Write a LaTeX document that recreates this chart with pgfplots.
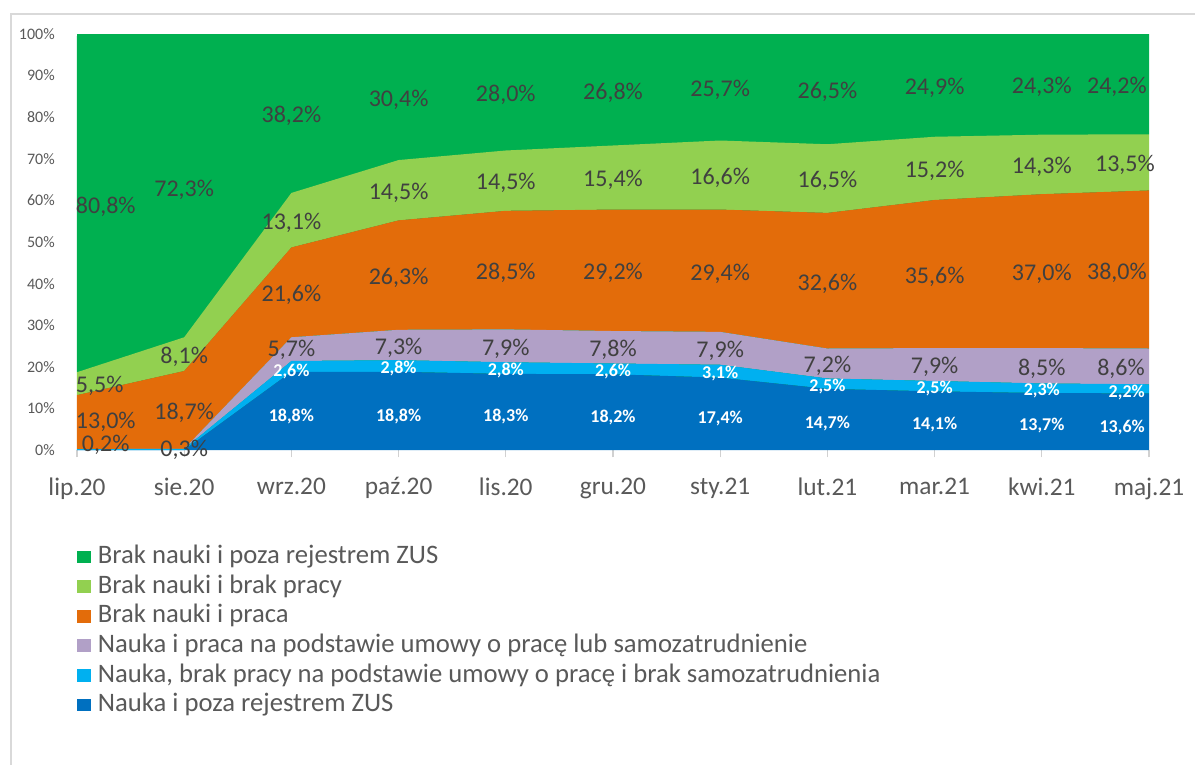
\documentclass[border=0pt]{standalone}
\usepackage{fontspec}
\setmainfont{Carlito}
\usepackage{pgfplots}
\pgfplotsset{compat=1.18}
\definecolor{cDG}{HTML}{00B050}
\definecolor{cLG}{HTML}{92D050}
\definecolor{cOR}{HTML}{E36C0A}
\definecolor{cPU}{HTML}{B1A0C7}
\definecolor{cLB}{HTML}{00B0F0}
\definecolor{cDB}{HTML}{0070C0}
\definecolor{cText}{HTML}{404040}
\definecolor{cTick}{HTML}{595959}
\tikzset{
 lab/.style={font=\fontsize{18}{18}\selectfont, text=cText, inner sep=0pt, yshift=-2pt},
 wlab/.style={font=\fontsize{13.5}{13.5}\selectfont\bfseries, text=white, inner sep=0pt, yshift=-2pt},
}
\pgfplotsset{frame/.style={at={(57.75pt,-337.5pt)}, anchor=south west,
 width=804pt, height=312pt, scale only axis,
 xmin=0, xmax=10, ymin=0, ymax=100}}
\newcommand{\lab}[3]{\node[lab] at (axis cs:#1,#2) {#3\%};}
\newcommand{\labW}[3]{\node[lab,anchor=west,xshift=-1pt] at (axis cs:#1,#2) {#3\%};}
\newcommand{\labE}[3]{\node[lab,anchor=east,xshift=-1.5pt] at (axis cs:#1,#2) {#3\%};}
\newcommand{\wl}[3]{\node[wlab] at (axis cs:#1,#2) {#3\%};}
\newcommand{\wlE}[3]{\node[wlab,anchor=east,xshift=-3pt] at (axis cs:#1,#2) {#3\%};}
\begin{document}
\begin{tikzpicture}
\path[use as bounding box] (0pt,0pt) rectangle (896.25pt,-573pt);
\begin{scope}
\clip (0pt,0pt) rectangle (896.25pt,-573pt);
\draw[draw=black!15, line width=0.8pt] (8.25pt,-10.5pt) rectangle (950pt,-620pt);
\end{scope}
\begin{axis}[
 frame,
 axis background/.style={fill=cDG},
 stack plots=y,
 axis x line*=bottom, axis y line*=left,
 axis line style={draw=none},
 xtick={0,...,10},
 xticklabels={lip.20,sie.20,wrz.20,paź.20,lis.20,gru.20,sty.21,lut.21,mar.21,kwi.21,maj.21},
 ytick={0,10,...,100},
 yticklabel={\pgfmathprintnumber{\tick}\%},
 /pgf/number format/assume math mode=true,
 tick align=outside,
 major tick length=5.5pt,
 xtick style={draw=black!18, line width=0.8pt},
 ytick style={draw=none},
 xticklabel style={font=\fontsize{19}{19}\selectfont, text=cTick, inner sep=0pt, yshift=-15pt},
 yticklabel style={font=\fontsize{12}{12}\selectfont, text=cTick, inner sep=0pt, xshift=-11pt},
 reverse legend,
 legend cell align=left,
 legend image code/.code={\fill[#1] (0pt,-4.8pt) rectangle (10.5pt,4.8pt);},
 legend style={at={(0,0)}, anchor=north west, yshift=-70.5pt, xshift=0pt,
   draw=none, fill=none, inner sep=0pt, row sep=3.1pt, column sep=5pt,
   font=\fontsize{20}{20}\selectfont, text=cTick,
   nodes={inner sep=0pt, text height=14.5pt, text depth=4.6pt}},
]
\addplot[fill=cDB, draw=none] coordinates {(0,0) (1,0) (2,18.8) (3,18.8) (4,18.3) (5,18.2) (6,17.4) (7,14.7) (8,14.1) (9,13.7) (10,13.6)} \closedcycle;
\addlegendentry{Nauka i poza rejestrem ZUS}
\addplot[fill=cLB, draw=none] coordinates {(0,0.2) (1,0.3) (2,2.6) (3,2.8) (4,2.8) (5,2.6) (6,3.1) (7,2.5) (8,2.5) (9,2.3) (10,2.2)} \closedcycle;
\addlegendentry{Nauka, brak pracy na podstawie umowy o pracę i brak samozatrudnienia}
\addplot[fill=cPU, draw=none] coordinates {(0,0) (1,0) (2,5.7) (3,7.3) (4,7.9) (5,7.8) (6,7.9) (7,7.2) (8,7.9) (9,8.5) (10,8.6)} \closedcycle;
\addlegendentry{Nauka i praca na podstawie umowy o pracę lub samozatrudnienie}
\addplot[fill=cOR, draw=none] coordinates {(0,13.0) (1,18.7) (2,21.6) (3,26.3) (4,28.5) (5,29.2) (6,29.4) (7,32.6) (8,35.6) (9,37.0) (10,38.0)} \closedcycle;
\addlegendentry{Brak nauki i praca}
\addplot[fill=cLG, draw=none] coordinates {(0,5.5) (1,8.1) (2,13.1) (3,14.5) (4,14.5) (5,15.4) (6,16.6) (7,16.5) (8,15.2) (9,14.3) (10,13.5)} \closedcycle;
\addlegendentry{Brak nauki i brak pracy}
\addplot[fill=cDG, draw=none] coordinates {(0,80.8) (1,72.3) (2,38.2) (3,30.4) (4,28.0) (5,26.8) (6,25.7) (7,26.5) (8,24.9) (9,24.3) (10,24.2)} \closedcycle;
\addlegendentry{Brak nauki i poza rejestrem ZUS}
\end{axis}
\begin{axis}[frame, hide axis, clip=false]
% dark green labels
\labW{0}{59.1}{80,8}
\lab{1}{63.25}{72,3}
\lab{2}{80.9}{38,2}
\lab{3}{84.9}{30,4}
\lab{4}{86.0}{28,0}
\lab{5}{86.6}{26,8}
\lab{6}{87.25}{25,7}
\lab{7}{86.75}{26,5}
\lab{8}{87.75}{24,9}
\lab{9}{87.95}{24,3}
\labE{10}{88.0}{24,2}
% light green labels
\labW{0}{15.95}{5,5}
\lab{1}{23.05}{8,1}
\lab{2}{55.25}{13,1}
\lab{3}{62.45}{14,5}
\lab{4}{64.75}{14,5}
\lab{5}{65.5}{15,4}
\lab{6}{66.1}{16,6}
\lab{7}{65.25}{16,5}
\lab{8}{67.7}{15,2}
\lab{9}{68.65}{14,3}
\node[lab,anchor=east,xshift=4.5pt] at (axis cs:10,69.15) {13,5\%};
% orange labels
\labW{0}{7.4}{13,0}
\lab{1}{9.65}{18,7}
\lab{2}{37.9}{21,6}
\lab{3}{42.05}{26,3}
\lab{4}{43.25}{28,5}
\lab{5}{43.2}{29,2}
\lab{6}{43.1}{29,4}
\lab{7}{40.7}{32,6}
\lab{8}{42.3}{35,6}
\lab{9}{43.0}{37,0}
\labE{10}{43.15}{38,0}
% purple labels
\lab{2}{24.6}{5,7}
\lab{3}{25.25}{7,3}
\lab{4}{25.05}{7,9}
\lab{5}{24.7}{7,8}
\lab{6}{24.45}{7,9}
\lab{7}{20.8}{7,2}
\lab{8}{20.55}{7,9}
\lab{9}{20.25}{8,5}
\node[lab,anchor=east,xshift=-3pt] at (axis cs:10,20.1) {8,6\%};
% light blue labels
\node[lab,anchor=west,xshift=3.5pt] at (axis cs:0,2.0) {0,2\%};
\lab{1}{0.6}{0,3}
\wl{2}{19.4}{2,6}
\wl{3}{20.2}{2,8}
\wl{4}{19.7}{2,8}
\wl{5}{19.5}{2,6}
\wl{6}{18.95}{3,1}
\wl{7}{15.95}{2,5}
\wl{8}{15.35}{2,5}
\wl{9}{14.85}{2,3}
\wlE{10}{14.4}{2,2}
% dark blue labels
\wl{2}{8.8}{18,8}
\wl{3}{8.8}{18,8}
\wl{4}{8.6}{18,3}
\wl{5}{8.5}{18,2}
\wl{6}{8.2}{17,4}
\wl{7}{7.0}{14,7}
\wl{8}{6.7}{14,1}
\wl{9}{6.5}{13,7}
\wlE{10}{6.0}{13,6}
\end{axis}
\end{tikzpicture}
\end{document}
